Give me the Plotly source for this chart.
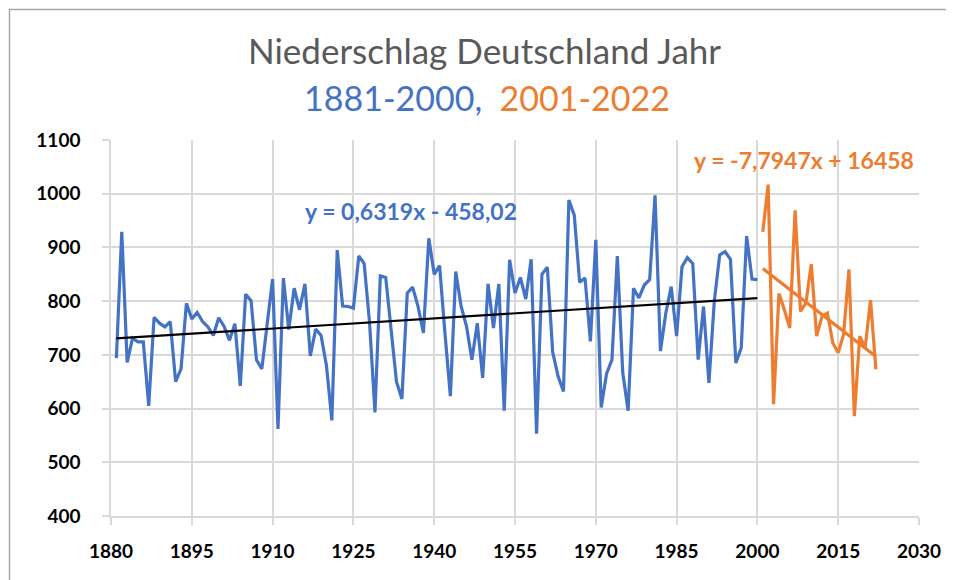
import plotly.graph_objects as go

# ---------------- data ----------------
blue_years = list(range(1881, 2001))
blue_values = [
    694, 929, 686, 731, 724, 724, 605, 770, 759, 752,   # 1881-1890
    762, 650, 674, 796, 767, 779, 762, 752, 736, 769,   # 1891-1900
    753, 727, 758, 642, 813, 801, 691, 674, 758, 841,   # 1901-1910
    562, 843, 747, 824, 784, 832, 698, 748, 736, 680,   # 1911-1920
    578, 895, 791, 790, 787, 884, 870, 760, 593, 847,   # 1921-1930
    844, 750, 650, 618, 815, 826, 790, 741, 917, 850,   # 1931-1940
    866, 740, 623, 855, 790, 753, 691, 759, 657, 832,   # 1941-1950
    750, 832, 596, 877, 815, 844, 804, 878, 553, 850,   # 1951-1960
    863, 705, 660, 632, 988, 960, 835, 843, 725, 914,   # 1961-1970
    602, 665, 691, 884, 667, 596, 824, 806, 830, 840,   # 1971-1980
    997, 707, 778, 827, 735, 864, 881, 870, 691, 790,   # 1981-1990
    648, 800, 886, 892, 878, 685, 713, 921, 841, 840,   # 1991-2000
]
orange_years = list(range(2001, 2023))
orange_values = [
    929, 1017, 608, 814, 784, 750, 969, 781, 796, 869,
    735, 772, 778, 722, 704, 738, 859, 586, 735, 713,
    802, 673,
]
# trend line coefficients (slope, intercept) as shown on the chart
blue_trend = [0.6319, -458.02]
orange_trend = [-7.7947, 16458]
blue_label = "y = 0,6319x - 458,02"
orange_label = "y = -7,7947x + 16458"
title_line1 = "Niederschlag Deutschland Jahr"
title_blue = "1881-2000,"
title_orange = "2001-2022"
x_ticks = [1880, 1895, 1910, 1925, 1940, 1955, 1970, 1985, 2000, 2015, 2030]
y_ticks = [400, 500, 600, 700, 800, 900, 1000, 1100]

BLUE = "#4472C4"
ORANGE = "#ED7D31"
GRID = "#D9D9D9"
FONT = "Lato"

bt_x = [blue_years[0], blue_years[-1]]
bt_y = [blue_trend[0] * v + blue_trend[1] for v in bt_x]
ot_x = [orange_years[0], orange_years[-1]]
ot_y = [orange_trend[0] * v + orange_trend[1] for v in ot_x]

fig = go.Figure()
fig.add_trace(go.Scatter(x=blue_years, y=blue_values, mode="lines",
                         line=dict(color=BLUE, width=3.2), showlegend=False))
fig.add_trace(go.Scatter(x=orange_years, y=orange_values, mode="lines",
                         line=dict(color=ORANGE, width=3.2), showlegend=False))
fig.add_trace(go.Scatter(x=bt_x, y=bt_y, mode="lines",
                         line=dict(color="#000000", width=2.2), showlegend=False))
fig.add_trace(go.Scatter(x=ot_x, y=ot_y, mode="lines",
                         line=dict(color=ORANGE, width=3.2), showlegend=False))

OFF = 8  # page body margin
W, H = 954 - OFF, 580 - OFF
# target plot area in screenshot pixels
PX0, PX1, PY0, PY1 = 111, 919, 140, 516
L, R, T, B = PX0 - OFF, W - (PX1 - OFF), PY0 - OFF, H - (PY1 - OFF)
pw, ph = PX1 - PX0, PY1 - PY0


def px_x(p):
    return (p - PX0) / pw


def px_y(p):
    return (PY1 - p) / ph


fig.update_layout(
    width=W, height=H,
    margin=dict(l=L, r=R, t=T, b=B),
    paper_bgcolor="white", plot_bgcolor="white",
    font=dict(family=FONT, color="#000000"),
    xaxis=dict(range=[1880, 2030], tickvals=x_ticks, showgrid=True,
               gridcolor=GRID, gridwidth=1.5, showline=True, linecolor=GRID,
               linewidth=1.5, ticks="outside", ticklen=7, tickcolor=GRID,
               tickwidth=1.5, zeroline=False,
               tickfont=dict(family=FONT, size=19, color="#000000", weight="bold"),
               ticklabelstandoff=10),
    yaxis=dict(range=[400, 1100], tickvals=y_ticks, showgrid=True,
               gridcolor=GRID, gridwidth=1.5, showline=True, linecolor=GRID,
               linewidth=1.5, ticks="outside", ticklen=7, tickcolor=GRID,
               tickwidth=1.5, zeroline=False,
               tickfont=dict(family=FONT, size=19, color="#000000", weight="bold"),
               ticklabelstandoff=18),
    annotations=[
        dict(text=title_line1, xref="paper", yref="paper",
             x=px_x(484), y=px_y(50), xanchor="center", yanchor="middle",
             showarrow=False, font=dict(family=FONT, size=35, color="#595959")),
        dict(text=f"<span style='color:{BLUE}'>{title_blue}</span>&nbsp;&nbsp;"
                  f"<span style='color:{ORANGE}'>{title_orange}</span>",
             xref="paper", yref="paper",
             x=px_x(487), y=px_y(97), xanchor="center", yanchor="middle",
             showarrow=False, font=dict(family=FONT, size=34)),
        dict(text=f"<b>{blue_label}</b>", xref="paper", yref="paper",
             x=px_x(411), y=px_y(211), xanchor="center", yanchor="middle",
             showarrow=False, font=dict(family=FONT, size=23, color=BLUE)),
        dict(text=f"<b>{orange_label}</b>", xref="paper", yref="paper",
             x=px_x(804), y=px_y(160), xanchor="center", yanchor="middle",
             showarrow=False, font=dict(family=FONT, size=23, color=ORANGE)),
    ],
    shapes=[
        dict(type="line", xref="paper", yref="paper",
             x0=px_x(9), x1=px_x(960), y0=px_y(9.5), y1=px_y(9.5),
             line=dict(color="#A6A6A6", width=1.5)),
        dict(type="line", xref="paper", yref="paper",
             x0=px_x(9.5), x1=px_x(9.5), y0=px_y(9), y1=px_y(590),
             line=dict(color="#A6A6A6", width=1.5)),
    ],
)

fig.write_html("out.html")
